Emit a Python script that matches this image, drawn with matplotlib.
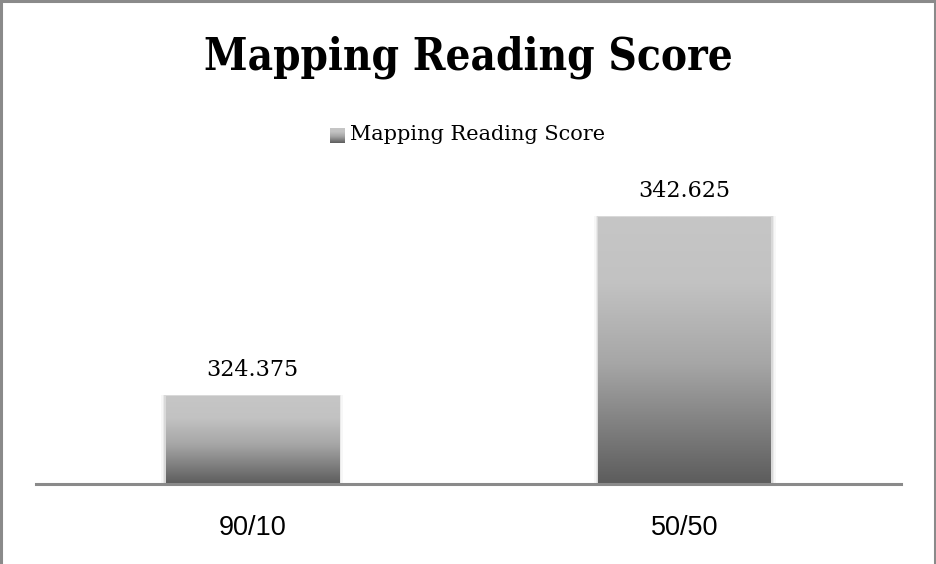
import numpy as np
import matplotlib
matplotlib.use('Agg')
import matplotlib.pyplot as plt
from matplotlib.colors import LinearSegmentedColormap

title = 'Mapping Reading Score'
series_name = 'Mapping Reading Score'
categories = ['90/10', '50/50']
scores = [324.375, 342.625]
labels = ['324.375', '342.625']

W, H = 937, 564
fig = plt.figure(figsize=(W / 100, H / 100), dpi=100)

# plot area in pixels
x0, x1 = 36, 901
ybase, ytop = 484, 190
ymin, ymax = 315.4, 345.4
ax = fig.add_axes([x0 / W, 1 - ybase / H, (x1 - x0) / W, (ybase - ytop) / H])

grad = LinearSegmentedColormap.from_list(
    'bar', [(0.0, '#5c5c5c'), (0.45, '#a6a6a6'), (0.75, '#c2c2c2'), (1.0, '#c6c6c6')])
g = np.linspace(0, 1, 256).reshape(-1, 1)

bars = ax.bar(range(len(scores)), scores, width=0.4, color='none', zorder=2)
for b, lab in zip(bars, labels):
    bx, bw, bh = b.get_x(), b.get_width(), b.get_height()
    # soft shadow
    for k, a in [(0.010, 0.03), (0.006, 0.05), (0.003, 0.07)]:
        ax.add_patch(plt.Rectangle((bx - k, ymin), bw + 2 * k, bh - ymin + 0.15,
                                   color='black', alpha=a, lw=0, zorder=1))
    ax.imshow(g, cmap=grad, origin='lower', aspect='auto',
              extent=(bx, bx + bw, ymin, bh), zorder=2)
    ax.text(bx + bw / 2, bh + 1.5, lab, ha='center', va='bottom',
            fontsize=16, family='DejaVu Serif', clip_on=False)
ax.set_xlim(-0.5, 1.5)
ax.set_ylim(ymin, ymax)

for s in ['top', 'right', 'left']:
    ax.spines[s].set_visible(False)
ax.spines['bottom'].set_color('#8a8a8a')
ax.spines['bottom'].set_linewidth(2.2)
ax.set_yticks([])
ax.set_xticks(range(len(categories)))
ax.set_xticklabels(categories, fontsize=19.5, family='Liberation Sans')
ax.tick_params(axis='x', length=0, pad=22)
ax.patch.set_alpha(0)

fig.text(0.5, 1 - 57 / H, title, ha='center', va='center',
         fontsize=31.5, fontweight='bold', family='DejaVu Serif', fontstretch='condensed')

# legend
lax = fig.add_axes([330 / W, 1 - 143 / H, 15 / W, 15 / H])
lax.imshow(g, cmap=grad, origin='lower', aspect='auto')
lax.axis('off')
fig.text(350 / W, 1 - 135 / H, series_name, ha='left', va='center',
         fontsize=15, family='DejaVu Serif')

# chart border
for xs, ys in [([1, 1], [0, H]), ([0, W], [H - 0.5, H - 0.5]), ([W - 1.5, W - 1.5], [0, H])]:
    fig.add_artist(plt.Line2D([x / W for x in xs], [y / H for y in ys],
                              color='#8a8a8a', lw=2.2))

fig.savefig('out.png', dpi=100)
